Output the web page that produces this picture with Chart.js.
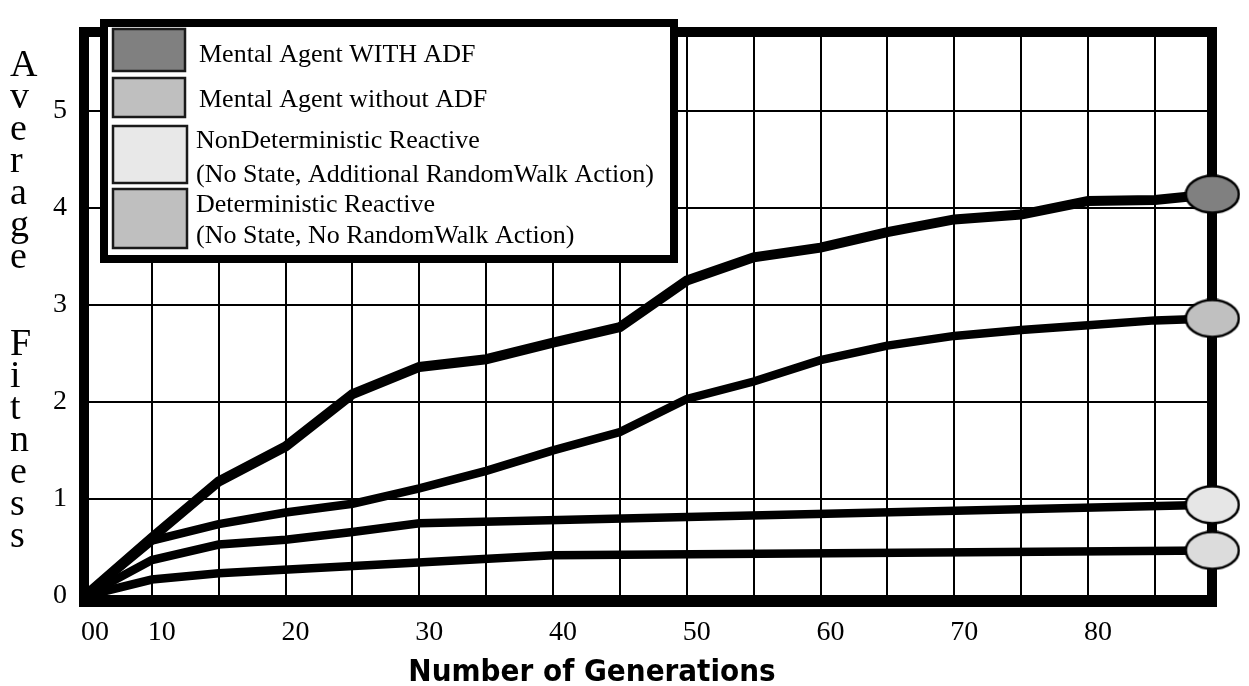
<!DOCTYPE html>
<html lang="en">

<head>
    <meta charset="UTF-8">
    <title>Average Fitness vs Number of Generations</title>
    <script src="https://cdn.jsdelivr.net/npm/chart.js"></script>
    <style>
        body { margin: 0; background: #fff; }
        #wrap { width: 1249px; height: 686px; position: relative; }
    </style>
</head>

<body>
    <div id="wrap">
        <canvas id="myChart"></canvas>
    </div>

<script>
    // x is the position along the drawn axis: one grid step = 5,
    // the original labels its first grid line "10", the third "20", ...
    const xTickAt = [0, 5, 15, 25, 35, 45, 55, 65, 75]
    const xTickLabels = ['00', '10', '20', '30', '40', '50', '60', '70', '80']

    const seriesNames = [
        ['Mental Agent WITH ADF'],
        ['Mental Agent without ADF'],
        ['NonDeterministic Reactive', '(No State, Additional RandomWalk Action)'],
        ['Deterministic Reactive', '(No State, No RandomWalk Action)']
    ]
    const legendColors = ['#808080', '#bfbfbf', '#e8e8e8', '#bfbfbf']
    const markerColors = ['#808080', '#c0c0c0', '#e6e6e6', '#dcdcdc']

    const xMental = [0, 5, 10, 15, 20, 25, 30, 35, 40, 45, 50, 55, 60, 65, 70, 75, 80, 84.3]
    const withAdf = [0, 0.6, 1.18, 1.54, 2.08, 2.36, 2.44, 2.61, 2.77, 3.25, 3.49, 3.59, 3.75, 3.88, 3.93, 4.07, 4.08, 4.14]
    const withoutAdf = [0, 0.57, 0.74, 0.86, 0.95, 1.11, 1.29, 1.5, 1.69, 2.03, 2.21, 2.43, 2.58, 2.68, 2.74, 2.79, 2.84, 2.86]

    const xNonDet = [0, 5, 10, 15, 20, 25, 84.3]
    const nonDet = [0, 0.37, 0.53, 0.58, 0.66, 0.75, 0.94]

    const xDet = [0, 5, 10, 35, 84.3]
    const det = [0, 0.17, 0.235, 0.42, 0.47]

    const seriesX = [xMental, xMental, xNonDet, xDet]
    const seriesY = [withAdf, withoutAdf, nonDet, det]

    function ellipseMarker(fill) {
        const c = document.createElement('canvas')
        c.width = 56
        c.height = 40
        const g = c.getContext('2d')
        g.beginPath()
        g.ellipse(28, 20, 26.5, 18.5, 0, 0, Math.PI * 2)
        g.fillStyle = fill
        g.fill()
        g.lineWidth = 2.5
        g.strokeStyle = '#000'
        g.stroke()
        return c
    }

    const datasets = seriesY.map((ys, k) => {
        const n = ys.length
        return {
            label: seriesNames[k].join(' '),
            data: ys.map((y, i) => ({ x: seriesX[k][i], y: y })),
            borderColor: '#000',
            borderWidth: k === 0 ? 10 : 8.5,
            borderJoinStyle: 'miter',
            tension: 0,
            fill: false,
            clip: false,
            pointStyle: ellipseMarker(markerColors[k]),
            pointRadius: ctx => ctx.dataIndex === n - 1 ? 27 : 0,
            pointHoverRadius: ctx => ctx.dataIndex === n - 1 ? 27 : 0
        }
    })

    // thick frame round the plot, and the boxed legend in its top-left corner
    const framePlugin = {
        id: 'frame',
        beforeDatasetsDraw(chart) {
            const { ctx, chartArea: a } = chart
            ctx.save()
            ctx.strokeStyle = '#000'
            ctx.lineWidth = 10
            ctx.strokeRect(a.left - 1, a.top - 5, a.right - a.left + 6, a.bottom - a.top + 11)

            ctx.fillStyle = '#fff'
            ctx.fillRect(100, 19, 578, 244)
            ctx.lineWidth = 8
            ctx.strokeRect(104, 23, 570, 236)

            const rows = [
                { box: [113, 29, 72, 42], tx: 199, ty: [62] },
                { box: [113, 78, 72, 39], tx: 199, ty: [107] },
                { box: [113, 126, 74, 57], tx: 196, ty: [148, 182] },
                { box: [113, 189, 74, 59], tx: 196, ty: [212, 243] }
            ]
            ctx.font = '26px "Liberation Serif"'
            ctx.textBaseline = 'alphabetic'
            ctx.textAlign = 'left'
            rows.forEach((r, k) => {
                ctx.fillStyle = legendColors[k]
                ctx.fillRect(r.box[0], r.box[1], r.box[2], r.box[3])
                ctx.lineWidth = 2.5
                ctx.strokeStyle = '#1a1a1a'
                ctx.strokeRect(r.box[0], r.box[1], r.box[2], r.box[3])
                ctx.fillStyle = '#000'
                seriesNames[k].forEach((line, j) => ctx.fillText(line, r.tx, r.ty[j]))
            })
            ctx.restore()
        },
        afterDraw(chart) {
            const ctx = chart.ctx
            ctx.save()
            ctx.fillStyle = '#000'
            ctx.textAlign = 'left'
            ctx.textBaseline = 'alphabetic'
            ctx.font = '38px "Liberation Serif"'
            'Average'.split('').forEach((ch, i) => ctx.fillText(ch, 10, 76 + 32 * i))
            'Fitness'.split('').forEach((ch, i) => ctx.fillText(ch, 10, 355 + 32 * i))

            ctx.textAlign = 'center'
            ctx.font = 'bold 31px "DejaVu Sans Condensed"'
            ctx.fillText('Number of Generations', 592, 681)
            ctx.restore()
        }
    }

    const serif = { family: '"Liberation Serif", "Times New Roman", serif', size: 28 }

    const config = {
        type: 'line',
        data: { datasets: datasets },
        options: {
            responsive: true,
            maintainAspectRatio: false,
            animation: false,
            events: [],
            layout: { padding: { top: 13, right: 42, left: 0, bottom: 0 } },
            plugins: {
                legend: { display: false },
                tooltip: { enabled: false }
            },
            scales: {
                x: {
                    type: 'linear',
                    min: 0,
                    max: 83.9,
                    border: { display: false },
                    grid: { color: '#000', lineWidth: 2, drawTicks: false },
                    ticks: {
                        stepSize: 5,
                        includeBounds: false,
                        autoSkip: false,
                        maxRotation: 0,
                        labelOffset: 10,
                        padding: 20,
                        color: '#000',
                        font: serif,
                        callback: v => {
                            const i = xTickAt.indexOf(v)
                            return i < 0 ? '' : xTickLabels[i]
                        }
                    },
                    afterFit: s => { s.height = 90 }
                },
                y: {
                    type: 'linear',
                    min: 0,
                    max: 5.76,
                    border: { display: false },
                    grid: { color: '#000', lineWidth: 2, drawTicks: false },
                    ticks: {
                        stepSize: 1,
                        includeBounds: false,
                        padding: 18,
                        color: '#000',
                        font: serif
                    },
                    afterFit: s => { s.width = 85 }
                }
            }
        },
        plugins: [framePlugin]
    }

    window.fitnessChart = new Chart(document.getElementById('myChart'), config)
</script>
</body>

</html>
